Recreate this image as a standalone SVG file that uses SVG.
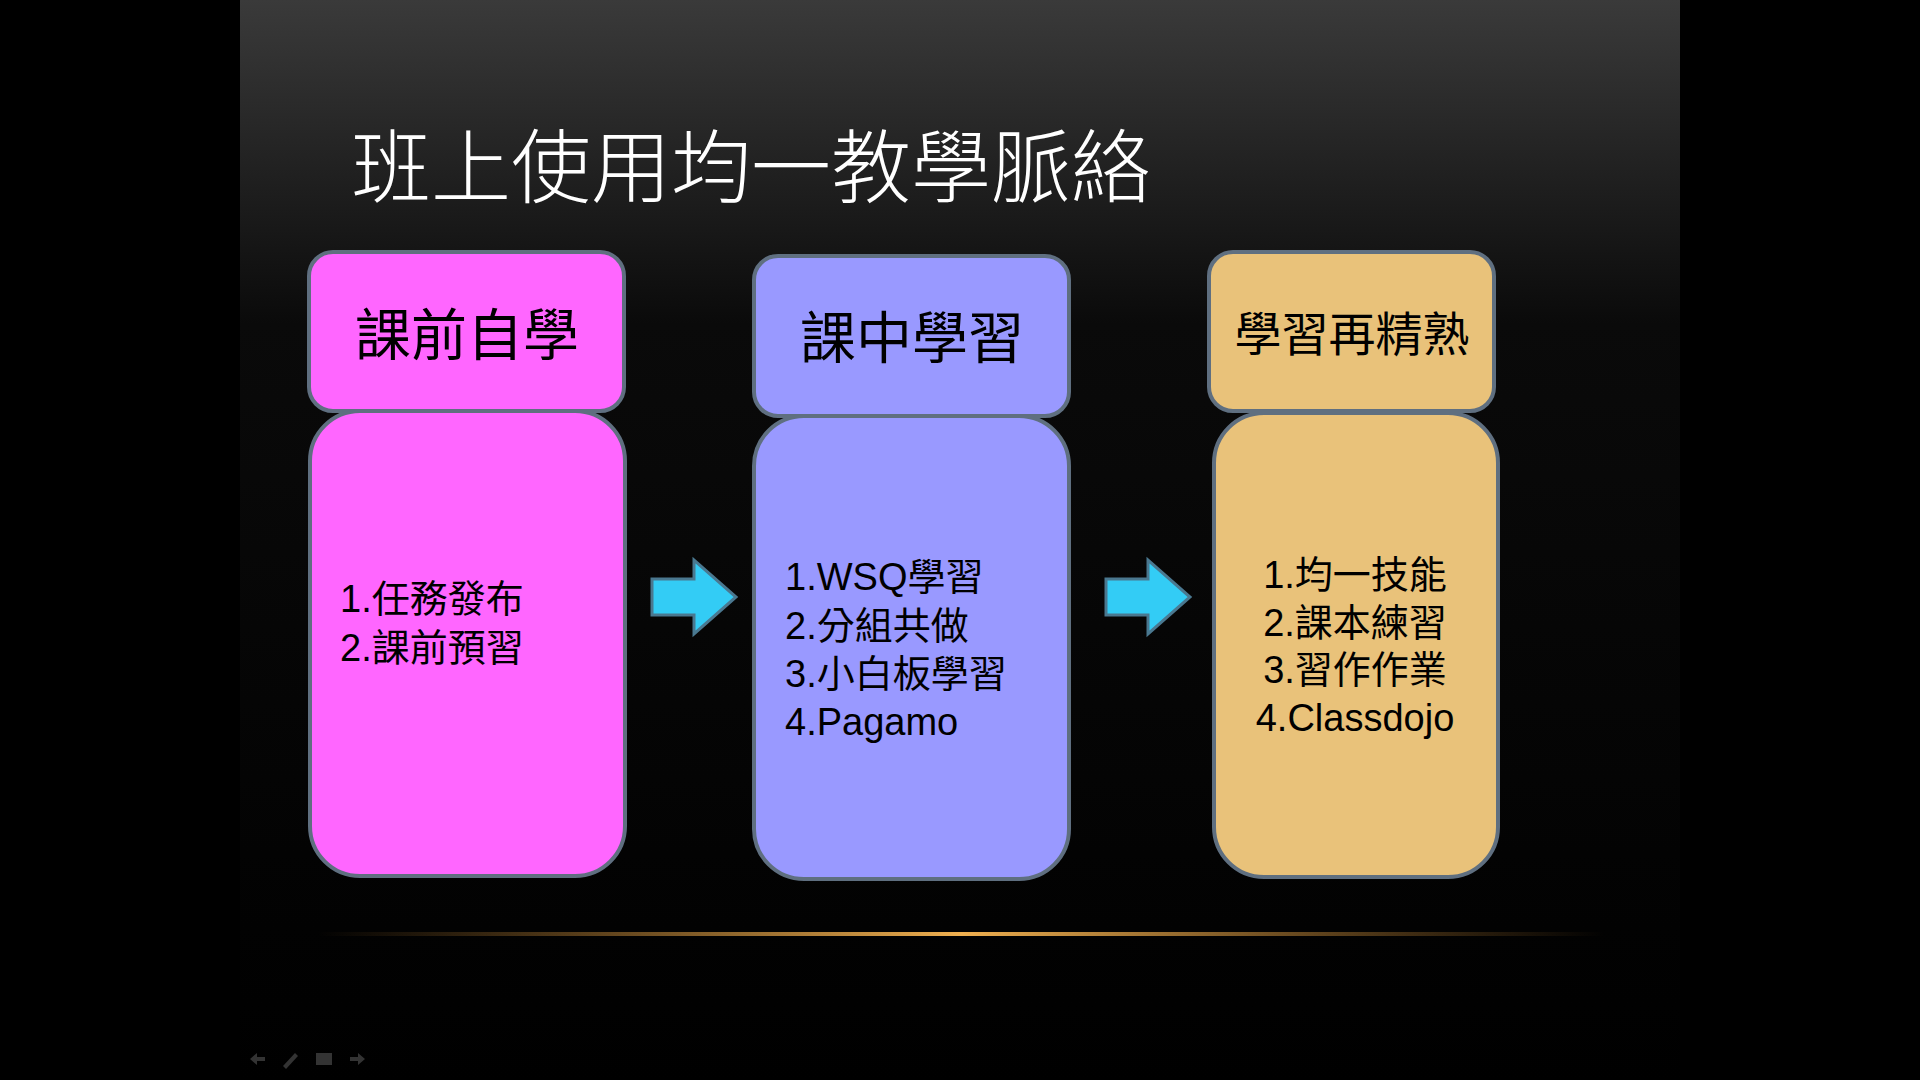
<svg xmlns="http://www.w3.org/2000/svg" width="1920" height="1080" viewBox="0 0 1920 1080">
<defs>
<linearGradient id="bg" x1="0" y1="0" x2="0" y2="1">
<stop offset="0" stop-color="#3a3a3a"/><stop offset="0.3" stop-color="#0a0a0a"/><stop offset="1" stop-color="#000"/>
</linearGradient>
<radialGradient id="glow" cx="0.5" cy="1" r="0.5">
<stop offset="0" stop-color="#6a5a45" stop-opacity="0.85"/><stop offset="1" stop-color="#000" stop-opacity="0"/>
</radialGradient>
<linearGradient id="gold" x1="0" y1="0" x2="1" y2="0">
<stop offset="0" stop-color="#c08030" stop-opacity="0"/><stop offset="0.5" stop-color="#f0b050"/><stop offset="1" stop-color="#c08030" stop-opacity="0"/>
</linearGradient>
<clipPath id="above"><rect x="240" y="0" width="1440" height="934"/></clipPath>
<path id="arr" d="M0,-18 H42 V-37 L84,0 L42,37 V18 H0 Z"/>
</defs>
<style>
.box{stroke:#5f6f80;stroke-width:4}
.t{font-family:"Liberation Sans","Noto Sans CJK TC",sans-serif;fill:#000}
.h{font-size:56px;text-anchor:middle}
.b{font-size:38px}
</style>
<rect width="1920" height="1080" fill="#000"/>
<rect x="240" y="0" width="1440" height="1080" fill="url(#bg)"/>
<ellipse cx="910" cy="934" rx="520" ry="140" fill="url(#glow)" clip-path="url(#above)"/>
<rect x="318" y="932" width="1286" height="4" fill="url(#gold)"/>
<text x="351" y="196" font-family="'Noto Sans CJK TC',sans-serif" font-size="80" font-weight="300" fill="#fff">班上使用均一教學脈絡</text>
<g id="connectors" fill="#33ccf5" stroke="#4a7890" stroke-width="3">
<use href="#arr" x="652" y="597"/>
<use href="#arr" x="1106" y="597"/>
</g>
<g id="n1">
<rect class="box" x="310" y="411" width="315" height="465" rx="50" fill="#ff66ff"/>
<rect class="box" x="309" y="252" width="315" height="159" rx="24" fill="#ff66ff"/>
<text class="t h" x="467" y="355">課前自學</text>
<text class="t b" x="340" y="612">1.任務發布</text>
<text class="t b" x="340" y="661">2.課前預習</text>
</g>
<g id="n2">
<rect class="box" x="754" y="416" width="315" height="463" rx="50" fill="#9999ff"/>
<rect class="box" x="754" y="256" width="315" height="160" rx="24" fill="#9999ff"/>
<text class="t h" x="912" y="358">課中學習</text>
<text class="t b" x="785" y="590">1.WSQ學習</text>
<text class="t b" x="785" y="639">2.分組共做</text>
<text class="t b" x="785" y="687">3.小白板學習</text>
<text class="t b" x="785" y="735">4.Pagamo</text>
</g>
<g id="n3">
<rect class="box" x="1214" y="413" width="284" height="464" rx="50" fill="#e9c27a"/>
<rect class="box" x="1209" y="252" width="285" height="159" rx="24" fill="#e9c27a"/>
<text class="t h" x="1352" y="351" style="font-size:47px">學習再精熟</text>
<text class="t b" x="1355" y="588" text-anchor="middle">1.均一技能</text>
<text class="t b" x="1355" y="636" text-anchor="middle">2.課本練習</text>
<text class="t b" x="1355" y="683" text-anchor="middle">3.習作作業</text>
<text class="t b" x="1355" y="731" text-anchor="middle">4.Classdojo</text>
</g>
<g id="nav" fill="#333">
<path d="M250,1059 l7,-6 v4 h8 v4 h-8 v4 z"/>
<path d="M283,1066 l12,-13 l3,3 l-12,13 z"/>
<rect x="316" y="1053" width="16" height="12"/>
<path d="M365,1059 l-7,-6 v4 h-8 v4 h8 v4 z"/>
</g>
</svg>
